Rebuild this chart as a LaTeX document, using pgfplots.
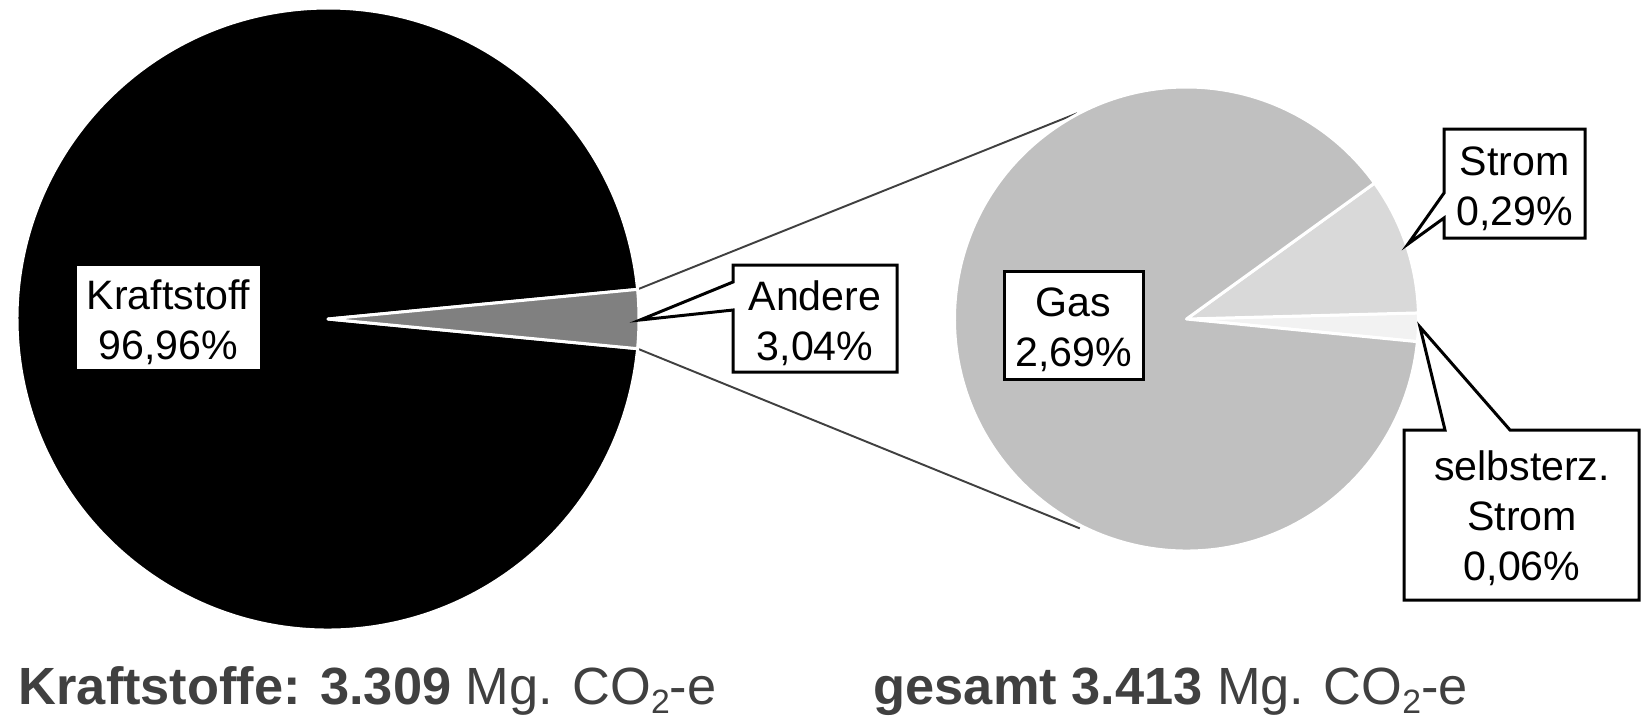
\documentclass[border=0pt]{standalone}
\usepackage{fontspec}
\setmainfont{Liberation Sans}
\usepackage{pgfplots}
\usepackage{pgfplotstable}
\pgfplotsset{compat=1.18}
\usetikzlibrary{calc}
\definecolor{cKraft}{HTML}{000000}
\definecolor{cAndere}{HTML}{808080}
\definecolor{cGas}{HTML}{C0C0C0}
\definecolor{cStrom}{HTML}{D9D9D9}
\definecolor{cSelbst}{HTML}{F2F2F2}
\definecolor{textgray}{HTML}{404040}
\definecolor{linegray}{HTML}{404040}

\pgfplotstableread{
name value
Kraftstoff 96.96
Andere 3.04
}\mainpie
\pgfplotstableread{
name value
selbsterz 0.06
Strom 0.29
Gas 2.69
}\subpie

\newcommand\sector[6]{%
  \fill[#6, draw=white, line width=0.85pt, line join=round]
    (axis cs:#1,#2) -- ++(#4:#3) arc[start angle=#4, end angle=#5, radius=#3] -- cycle;}
\newcommand\subtwo{\raisebox{-2.7pt}{\fontsize{9.6}{10}\selectfont 2}}

\begin{document}
\begin{tikzpicture}
\pgfplotstablegetelem{0}{value}\of\mainpie \let\vK\pgfplotsretval
\pgfplotstablegetelem{1}{value}\of\mainpie \let\vA\pgfplotsretval
\pgfplotstablegetelem{0}{value}\of\subpie \let\vS\pgfplotsretval
\pgfplotstablegetelem{1}{value}\of\subpie \let\vSt\pgfplotsretval
\pgfplotstablegetelem{2}{value}\of\subpie \let\vG\pgfplotsretval
\pgfmathsetmacro\halfA{\vA/(\vK+\vA)*180}
\pgfmathsetmacro\negHalfA{-\halfA}
\pgfmathsetmacro\endK{360-\halfA}
\pgfmathsetmacro\subTot{\vS+\vSt+\vG}
\pgfmathsetmacro\aS{-5.6}
\pgfmathsetmacro\bS{\aS+\vS/\subTot*360}
\pgfmathsetmacro\bSt{\bS+\vSt/\subTot*360}
\pgfmathsetmacro\bG{\aS+360}
\begin{axis}[
  width=16.42cm, height=7.17cm, scale only axis,
  xmin=0, xmax=1642, ymin=0, ymax=717, y dir=reverse,
  hide axis, clip=false,
  font=\fontsize{11.7}{14.2}\selectfont,
]
% connector lines
\draw[linegray, line width=0.55pt] ($(axis cs:328,319)+(\halfA:3.11cm)$) -- ($(axis cs:1186.5,319)+(118:2.33cm)$);
\draw[linegray, line width=0.55pt] ($(axis cs:328,319)+(\negHalfA:3.11cm)$) -- ($(axis cs:1186.5,319)+(-117:2.35cm)$);
% main pie
\sector{328}{319}{3.11cm}{\halfA}{\endK}{cKraft}
\sector{328}{319}{3.11cm}{\negHalfA}{\halfA}{cAndere}
% secondary pie
\sector{1186.5}{319}{2.32cm}{\aS}{\bS}{cSelbst}
\sector{1186.5}{319}{2.32cm}{\bS}{\bSt}{cStrom}
\sector{1186.5}{319}{2.32cm}{\bSt}{\bG}{cGas}
% label boxes
\fill[white] (axis cs:77,266) rectangle (axis cs:260,369);
\node[align=center] at (axis cs:168.5,322.5) {Kraftstoff\\96,96\%};
\filldraw[fill=white, draw=black, line width=0.85pt, line join=miter]
  (axis cs:733,265) -- (axis cs:897,265) -- (axis cs:897,372) -- (axis cs:733,372)
  -- (axis cs:733,310) -- (axis cs:640,320) -- (axis cs:733,282) -- cycle;
\node[align=center] at (axis cs:815,323) {Andere\\3,04\%};
\filldraw[fill=white, draw=black, line width=0.85pt]
  (axis cs:1004,271) rectangle (axis cs:1143,379);
\node[align=center] at (axis cs:1073.5,330) {Gas\\2,69\%};
\filldraw[fill=white, draw=black, line width=0.85pt, line join=miter]
  (axis cs:1444,129) -- (axis cs:1585,129) -- (axis cs:1585,238) -- (axis cs:1444,238)
  -- (axis cs:1444,218) -- (axis cs:1408,244) -- (axis cs:1444,193) -- cycle;
\node[align=center] at (axis cs:1514.5,189) {Strom\\0,29\%};
\filldraw[fill=white, draw=black, line width=0.85pt, line join=miter]
  (axis cs:1404,430) -- (axis cs:1445,430) -- (axis cs:1420,327) -- (axis cs:1510,430)
  -- (axis cs:1639,430) -- (axis cs:1639,600) -- (axis cs:1404,600) -- cycle;
\node[align=center] at (axis cs:1522,518) {selbsterz.\\Strom\\0,06\%};
% bottom texts
\node[anchor=base west, inner sep=0pt, text=textgray, font=\fontsize{14.9}{17}\selectfont]
  at (axis cs:18,704) {\textbf{Kraftstoffe: 3.309} Mg. CO\subtwo-e};
\node[anchor=base west, inner sep=0pt, text=textgray, font=\fontsize{14.9}{17}\selectfont]
  at (axis cs:873,704) {\textbf{gesamt 3.413} Mg. CO\subtwo-e};
\end{axis}
\pgfresetboundingbox
\useasboundingbox (current axis.south west) rectangle (current axis.north east);
\end{tikzpicture}
\end{document}
